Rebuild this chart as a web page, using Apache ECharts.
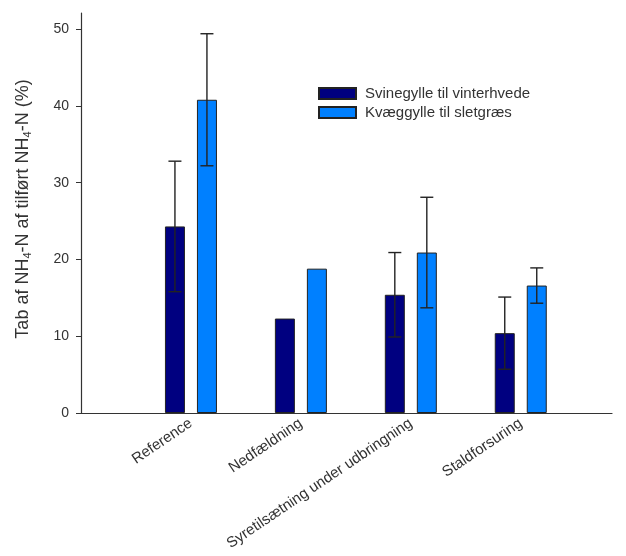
<!DOCTYPE html>
<html>
<head>
<meta charset="utf-8">
<script src="https://cdn.jsdelivr.net/npm/echarts@6/dist/echarts.min.js"></script>
<style>html,body{margin:0;padding:0;background:#fff}#c{width:626px;height:556px}</style>
</head>
<body>
<div id="c"></div>
<script>
const categories = ['Reference', 'Nedfældning', 'Syretilsætning under udbringning', 'Staldforsuring'];
const seriesNames = ['Svinegylle til vinterhvede', 'Kvæggylle til sletgræs'];
const svin = [24.3, 12.3, 15.4, 10.4];
const svinErr = [8.5, null, 5.5, 4.7];
const kvaeg = [40.8, 18.8, 20.9, 16.6];
const kvaegErr = [8.6, null, 7.2, 2.3];
const yTicks = [0, 10, 20, 30, 40, 50];
const xPositions = [1, 2, 3, 4];

const chart = echarts.init(document.getElementById('c'), null, {renderer: 'canvas'});
const font = 'Liberation Sans, Arial, sans-serif';

function errData(vals, errs) {
  const out = [];
  vals.forEach((v, i) => { if (errs[i] != null) out.push([xPositions[i], v - errs[i], v + errs[i]]); });
  return out;
}
function errSeries(name, vals, errs, dx) {
  return {
    type: 'custom', name: name + ' err', silent: true, z: 5,
    data: errData(vals, errs),
    renderItem: function (params, api) {
      const lo = api.coord([api.value(0), api.value(1)]);
      const hi = api.coord([api.value(0), api.value(2)]);
      const x = lo[0] + dx, hw = 6.5;
      const st = {stroke: '#222', lineWidth: 1.4};
      return {type: 'group', children: [
        {type: 'line', shape: {x1: x, y1: lo[1], x2: x, y2: hi[1]}, style: st},
        {type: 'line', shape: {x1: x - hw, y1: lo[1], x2: x + hw, y2: lo[1]}, style: st},
        {type: 'line', shape: {x1: x - hw, y1: hi[1], x2: x + hw, y2: hi[1]}, style: st}
      ]};
    }
  };
}

chart.setOption({
  animation: false,
  textStyle: {fontFamily: font},
  grid: {left: 81, right: 14, top: 13, bottom: 143, containLabel: false},
  legend: {
    data: seriesNames, orient: 'vertical', left: 318, top: 86, padding: 0,
    itemWidth: 37, itemHeight: 11, itemGap: 4, icon: 'rect',
    textStyle: {fontSize: 15, color: '#333', fontFamily: font, padding: [0, 0, 0, 4]}
  },
  xAxis: {
    type: 'value', min: 0, max: 4.83, interval: 1,
    axisLine: {show: true, lineStyle: {color: '#333', width: 1.2}},
    axisTick: {show: false},
    splitLine: {show: false},
    axisLabel: {
      customValues: xPositions, rotate: 34, margin: 9, fontSize: 15, color: '#333', fontFamily: font,
      formatter: v => categories[Math.round(v) - 1] || ''
    }
  },
  yAxis: {
    type: 'value', min: 0, max: 52.1,
    axisLine: {show: true, lineStyle: {color: '#333', width: 1.2}},
    axisTick: {show: true, length: 5, customValues: yTicks, lineStyle: {color: '#333'}},
    splitLine: {show: false},
    axisLabel: {customValues: yTicks, margin: 12, fontSize: 14, color: '#333', fontFamily: font},
    name: 'Tab af NH{sub|4}-N af tilført NH{sub|4}-N (%)',
    nameLocation: 'middle', nameGap: 48, nameRotate: 90,
    nameTextStyle: {
      fontSize: 18, color: '#333', fontFamily: font, padding: [0, 0, 0, 8],
      rich: {sub: {fontSize: 11, color: '#333', fontFamily: font, padding: [9, 0, 0, 0]}}
    }
  },
  series: [
    {
      type: 'bar', name: seriesNames[0], barWidth: 20, barGap: '60%',
      data: svin.map((v, i) => [xPositions[i], v]),
      itemStyle: {color: '#000080', borderColor: '#222', borderWidth: 1}
    },
    {
      type: 'bar', name: seriesNames[1], barWidth: 20, barGap: '60%',
      data: kvaeg.map((v, i) => [xPositions[i], v]),
      itemStyle: {color: '#0080ff', borderColor: '#222', borderWidth: 1}
    },
    errSeries(seriesNames[0], svin, svinErr, -16),
    errSeries(seriesNames[1], kvaeg, kvaegErr, 16)
  ]
});
</script>
</body>
</html>
